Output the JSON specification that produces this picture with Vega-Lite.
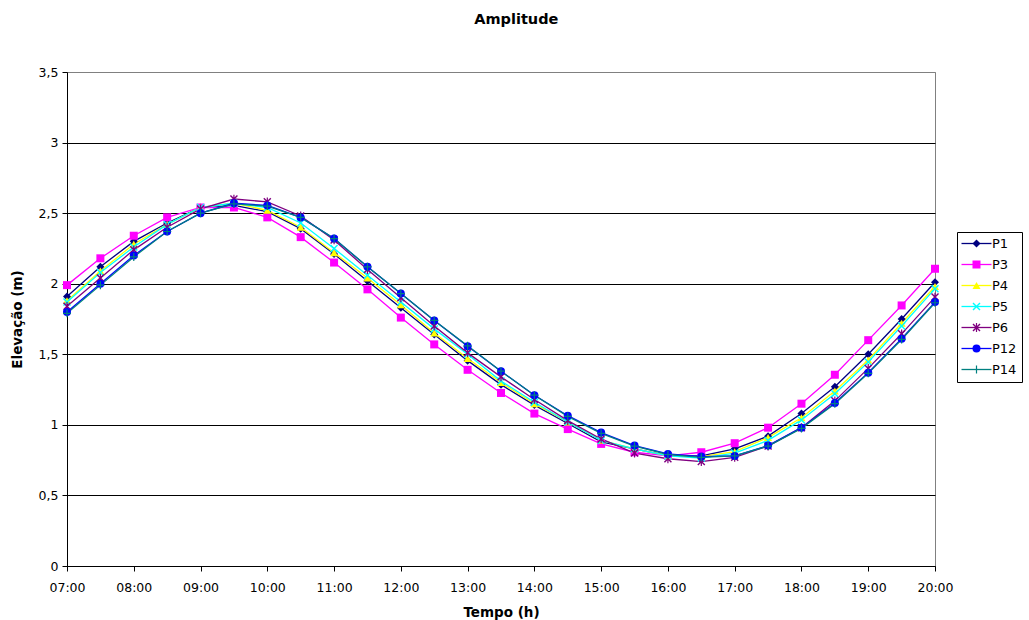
{
  "$schema": "https://vega.github.io/schema/vega-lite/v6.json",
  "width": 868,
  "height": 494,
  "autosize": {"type": "none"},
  "padding": {"left": 67, "top": 72, "right": 94, "bottom": 54},
  "background": "white",
  "title": {"text": "Amplitude", "font": "DejaVu Sans", "fontSize": 14.5, "fontWeight": "bold", "color": "black", "anchor": "middle", "frame": "bounds", "offset": 39},
  "config": {
    "view": {"stroke": "#808080", "strokeWidth": 1},
    "axis": {"labelFont": "DejaVu Sans", "labelFontSize": 12.5, "labelColor": "black", "titleFont": "DejaVu Sans", "titleFontSize": 13.5, "titleFontWeight": "bold", "titleColor": "black", "domainColor": "black", "tickColor": "black", "tickSize": 5}
  },
  "data": {
    "values": [
      {"hora":"07:00","serie":"P1","elev":1.91},{"hora":"07:30","serie":"P1","elev":2.12},{"hora":"08:00","serie":"P1","elev":2.30},{"hora":"08:30","serie":"P1","elev":2.43},{"hora":"09:00","serie":"P1","elev":2.54},{"hora":"09:30","serie":"P1","elev":2.555},{"hora":"10:00","serie":"P1","elev":2.51},{"hora":"10:30","serie":"P1","elev":2.39},{"hora":"11:00","serie":"P1","elev":2.21},{"hora":"11:30","serie":"P1","elev":2.02},{"hora":"12:00","serie":"P1","elev":1.83},{"hora":"12:30","serie":"P1","elev":1.64},{"hora":"13:00","serie":"P1","elev":1.455},{"hora":"13:30","serie":"P1","elev":1.285},{"hora":"14:00","serie":"P1","elev":1.14},{"hora":"14:30","serie":"P1","elev":1.01},{"hora":"15:00","serie":"P1","elev":0.88},{"hora":"15:30","serie":"P1","elev":0.83},{"hora":"16:00","serie":"P1","elev":0.78},{"hora":"16:30","serie":"P1","elev":0.78},{"hora":"17:00","serie":"P1","elev":0.83},{"hora":"17:30","serie":"P1","elev":0.92},{"hora":"18:00","serie":"P1","elev":1.08},{"hora":"18:30","serie":"P1","elev":1.27},{"hora":"19:00","serie":"P1","elev":1.50},{"hora":"19:30","serie":"P1","elev":1.75},{"hora":"20:00","serie":"P1","elev":2.01},
      {"hora":"07:00","serie":"P3","elev":1.99},{"hora":"07:30","serie":"P3","elev":2.18},{"hora":"08:00","serie":"P3","elev":2.34},{"hora":"08:30","serie":"P3","elev":2.47},{"hora":"09:00","serie":"P3","elev":2.54},{"hora":"09:30","serie":"P3","elev":2.54},{"hora":"10:00","serie":"P3","elev":2.47},{"hora":"10:30","serie":"P3","elev":2.33},{"hora":"11:00","serie":"P3","elev":2.15},{"hora":"11:30","serie":"P3","elev":1.96},{"hora":"12:00","serie":"P3","elev":1.76},{"hora":"12:30","serie":"P3","elev":1.57},{"hora":"13:00","serie":"P3","elev":1.39},{"hora":"13:30","serie":"P3","elev":1.226},{"hora":"14:00","serie":"P3","elev":1.08},{"hora":"14:30","serie":"P3","elev":0.97},{"hora":"15:00","serie":"P3","elev":0.865},{"hora":"15:30","serie":"P3","elev":0.806},{"hora":"16:00","serie":"P3","elev":0.78},{"hora":"16:30","serie":"P3","elev":0.806},{"hora":"17:00","serie":"P3","elev":0.87},{"hora":"17:30","serie":"P3","elev":0.98},{"hora":"18:00","serie":"P3","elev":1.15},{"hora":"18:30","serie":"P3","elev":1.355},{"hora":"19:00","serie":"P3","elev":1.60},{"hora":"19:30","serie":"P3","elev":1.846},{"hora":"20:00","serie":"P3","elev":2.106},
      {"hora":"07:00","serie":"P4","elev":1.88},{"hora":"07:30","serie":"P4","elev":2.09},{"hora":"08:00","serie":"P4","elev":2.28},{"hora":"08:30","serie":"P4","elev":2.42},{"hora":"09:00","serie":"P4","elev":2.54},{"hora":"09:30","serie":"P4","elev":2.57},{"hora":"10:00","serie":"P4","elev":2.52},{"hora":"10:30","serie":"P4","elev":2.40},{"hora":"11:00","serie":"P4","elev":2.22},{"hora":"11:30","serie":"P4","elev":2.04},{"hora":"12:00","serie":"P4","elev":1.85},{"hora":"12:30","serie":"P4","elev":1.65},{"hora":"13:00","serie":"P4","elev":1.47},{"hora":"13:30","serie":"P4","elev":1.30},{"hora":"14:00","serie":"P4","elev":1.15},{"hora":"14:30","serie":"P4","elev":1.02},{"hora":"15:00","serie":"P4","elev":0.89},{"hora":"15:30","serie":"P4","elev":0.83},{"hora":"16:00","serie":"P4","elev":0.78},{"hora":"16:30","serie":"P4","elev":0.775},{"hora":"17:00","serie":"P4","elev":0.81},{"hora":"17:30","serie":"P4","elev":0.91},{"hora":"18:00","serie":"P4","elev":1.05},{"hora":"18:30","serie":"P4","elev":1.24},{"hora":"19:00","serie":"P4","elev":1.46},{"hora":"19:30","serie":"P4","elev":1.72},{"hora":"20:00","serie":"P4","elev":1.98},
      {"hora":"07:00","serie":"P5","elev":1.87},{"hora":"07:30","serie":"P5","elev":2.08},{"hora":"08:00","serie":"P5","elev":2.26},{"hora":"08:30","serie":"P5","elev":2.42},{"hora":"09:00","serie":"P5","elev":2.54},{"hora":"09:30","serie":"P5","elev":2.57},{"hora":"10:00","serie":"P5","elev":2.54},{"hora":"10:30","serie":"P5","elev":2.43},{"hora":"11:00","serie":"P5","elev":2.25},{"hora":"11:30","serie":"P5","elev":2.06},{"hora":"12:00","serie":"P5","elev":1.87},{"hora":"12:30","serie":"P5","elev":1.68},{"hora":"13:00","serie":"P5","elev":1.50},{"hora":"13:30","serie":"P5","elev":1.31},{"hora":"14:00","serie":"P5","elev":1.16},{"hora":"14:30","serie":"P5","elev":1.02},{"hora":"15:00","serie":"P5","elev":0.89},{"hora":"15:30","serie":"P5","elev":0.83},{"hora":"16:00","serie":"P5","elev":0.78},{"hora":"16:30","serie":"P5","elev":0.765},{"hora":"17:00","serie":"P5","elev":0.80},{"hora":"17:30","serie":"P5","elev":0.89},{"hora":"18:00","serie":"P5","elev":1.035},{"hora":"18:30","serie":"P5","elev":1.22},{"hora":"19:00","serie":"P5","elev":1.445},{"hora":"19:30","serie":"P5","elev":1.70},{"hora":"20:00","serie":"P5","elev":1.965},
      {"hora":"07:00","serie":"P6","elev":1.84},{"hora":"07:30","serie":"P6","elev":2.04},{"hora":"08:00","serie":"P6","elev":2.24},{"hora":"08:30","serie":"P6","elev":2.40},{"hora":"09:00","serie":"P6","elev":2.53},{"hora":"09:30","serie":"P6","elev":2.60},{"hora":"10:00","serie":"P6","elev":2.58},{"hora":"10:30","serie":"P6","elev":2.48},{"hora":"11:00","serie":"P6","elev":2.31},{"hora":"11:30","serie":"P6","elev":2.10},{"hora":"12:00","serie":"P6","elev":1.90},{"hora":"12:30","serie":"P6","elev":1.70},{"hora":"13:00","serie":"P6","elev":1.51},{"hora":"13:30","serie":"P6","elev":1.34},{"hora":"14:00","serie":"P6","elev":1.18},{"hora":"14:30","serie":"P6","elev":1.03},{"hora":"15:00","serie":"P6","elev":0.90},{"hora":"15:30","serie":"P6","elev":0.80},{"hora":"16:00","serie":"P6","elev":0.76},{"hora":"16:30","serie":"P6","elev":0.74},{"hora":"17:00","serie":"P6","elev":0.77},{"hora":"17:30","serie":"P6","elev":0.85},{"hora":"18:00","serie":"P6","elev":0.98},{"hora":"18:30","serie":"P6","elev":1.17},{"hora":"19:00","serie":"P6","elev":1.40},{"hora":"19:30","serie":"P6","elev":1.645},{"hora":"20:00","serie":"P6","elev":1.905},
      {"hora":"07:00","serie":"P12","elev":1.80},{"hora":"07:30","serie":"P12","elev":2.00},{"hora":"08:00","serie":"P12","elev":2.20},{"hora":"08:30","serie":"P12","elev":2.37},{"hora":"09:00","serie":"P12","elev":2.50},{"hora":"09:30","serie":"P12","elev":2.57},{"hora":"10:00","serie":"P12","elev":2.555},{"hora":"10:30","serie":"P12","elev":2.47},{"hora":"11:00","serie":"P12","elev":2.32},{"hora":"11:30","serie":"P12","elev":2.12},{"hora":"12:00","serie":"P12","elev":1.93},{"hora":"12:30","serie":"P12","elev":1.74},{"hora":"13:00","serie":"P12","elev":1.557},{"hora":"13:30","serie":"P12","elev":1.38},{"hora":"14:00","serie":"P12","elev":1.21},{"hora":"14:30","serie":"P12","elev":1.065},{"hora":"15:00","serie":"P12","elev":0.945},{"hora":"15:30","serie":"P12","elev":0.853},{"hora":"16:00","serie":"P12","elev":0.794},{"hora":"16:30","serie":"P12","elev":0.775},{"hora":"17:00","serie":"P12","elev":0.78},{"hora":"17:30","serie":"P12","elev":0.853},{"hora":"18:00","serie":"P12","elev":0.98},{"hora":"18:30","serie":"P12","elev":1.155},{"hora":"19:00","serie":"P12","elev":1.37},{"hora":"19:30","serie":"P12","elev":1.61},{"hora":"20:00","serie":"P12","elev":1.87},
      {"hora":"07:00","serie":"P14","elev":1.79},{"hora":"07:30","serie":"P14","elev":1.99},{"hora":"08:00","serie":"P14","elev":2.19},{"hora":"08:30","serie":"P14","elev":2.37},{"hora":"09:00","serie":"P14","elev":2.50},{"hora":"09:30","serie":"P14","elev":2.565},{"hora":"10:00","serie":"P14","elev":2.55},{"hora":"10:30","serie":"P14","elev":2.47},{"hora":"11:00","serie":"P14","elev":2.32},{"hora":"11:30","serie":"P14","elev":2.12},{"hora":"12:00","serie":"P14","elev":1.93},{"hora":"12:30","serie":"P14","elev":1.74},{"hora":"13:00","serie":"P14","elev":1.56},{"hora":"13:30","serie":"P14","elev":1.38},{"hora":"14:00","serie":"P14","elev":1.21},{"hora":"14:30","serie":"P14","elev":1.06},{"hora":"15:00","serie":"P14","elev":0.94},{"hora":"15:30","serie":"P14","elev":0.85},{"hora":"16:00","serie":"P14","elev":0.79},{"hora":"16:30","serie":"P14","elev":0.77},{"hora":"17:00","serie":"P14","elev":0.78},{"hora":"17:30","serie":"P14","elev":0.85},{"hora":"18:00","serie":"P14","elev":0.975},{"hora":"18:30","serie":"P14","elev":1.15},{"hora":"19:00","serie":"P14","elev":1.365},{"hora":"19:30","serie":"P14","elev":1.605},{"hora":"20:00","serie":"P14","elev":1.865}
    ]
  },
  "encoding": {
    "x": {"field": "hora", "type": "ordinal", "sort": null, "scale": {"type": "point", "padding": 0},
      "axis": {"title": "Tempo (h)", "values": ["07:00","08:00","09:00","10:00","11:00","12:00","13:00","14:00","15:00","16:00","17:00","18:00","19:00","20:00"], "labelAngle": 0, "grid": false, "labelPadding": 10, "titlePadding": 12, "labelOverlap": false}},
    "y": {"field": "elev", "type": "quantitative", "scale": {"domain": [0, 3.5], "nice": false, "zero": true},
      "axis": {"title": "Elevação (m)", "values": [0, 0.5, 1, 1.5, 2, 2.5, 3, 3.5], "labelExpr": "replace(format(datum.value, '~g'), '.', ',')", "grid": true, "gridColor": {"condition": {"test": "datum.value >= 3.5", "value": "#808080"}, "value": "black"}, "gridOpacity": 1, "labelPadding": 4, "titlePadding": 14}}
  },
  "layer": [
    {"mark": {"type": "line", "strokeWidth": 1.3},
      "encoding": {
        "stroke": {"field": "serie", "type": "nominal",
          "scale": {"domain": ["P1", "P3", "P4", "P5", "P6", "P12", "P14"], "range": ["#000080", "#FF00FF", "#FFFF00", "#00FFFF", "#800080", "#0000FF", "#008080"]},
          "legend": {"title": null, "orient": "none", "legendX": 890, "legendY": 160, "padding": 5, "strokeColor": "black", "fillColor": "white", "labelFont": "DejaVu Sans", "labelFontSize": 13, "labelColor": "black", "labelOpacity": 0, "symbolSize": 64, "symbolType": "M-3.75,0L3.75,0", "symbolStrokeWidth": 1.3, "symbolOffset": 8, "labelOffset": 9, "rowPadding": 7}
        }
      }
    },
    {"mark": {"type": "point", "filled": true, "size": 64, "opacity": 1, "strokeWidth": 0},
      "encoding": {
        "color": {"field": "serie", "type": "nominal", "sort": null,
          "scale": {"range": ["#000080", "#FF00FF", "#FFFF00", "#00FFFF", "#800080", "#0000FF", "#008080"]},
          "legend": {"title": null, "orient": "none", "legendX": 890, "legendY": 160, "padding": 5, "labelFont": "DejaVu Sans", "labelFontSize": 13, "labelColor": "black", "symbolSize": 64, "symbolOffset": 8, "labelOffset": 9, "rowPadding": 7, "symbolStrokeWidth": 0, "symbolOpacity": 1}
        },
        "shape": {"field": "serie", "type": "nominal", "sort": null,
          "scale": {"range": ["diamond", "square", "triangle-up", "M-1,-0.75L-0.75,-1L0,-0.25L0.75,-1L1,-0.75L0.25,0L1,0.75L0.75,1L0,0.25L-0.75,1L-1,0.75L-0.25,0Z", "M-1,-0.75L-0.75,-1L0,-0.25L0.75,-1L1,-0.75L0.25,0L1,0.75L0.75,1L0,0.25L-0.75,1L-1,0.75L-0.25,0ZM-0.15,-1.1L0.15,-1.1L0.15,1.1L-0.15,1.1Z", "circle", "M-0.15,-1L0.15,-1L0.15,-0.15L1,-0.15L1,0.15L0.15,0.15L0.15,1L-0.15,1L-0.15,0.15L-1,0.15L-1,-0.15L-0.15,-0.15Z"]},
          "legend": {"title": null, "orient": "none", "legendX": 890, "legendY": 160, "padding": 5, "labelFont": "DejaVu Sans", "labelFontSize": 13, "labelColor": "black", "symbolSize": 64, "symbolOffset": 8, "labelOffset": 9, "rowPadding": 7, "symbolStrokeWidth": 0, "symbolOpacity": 1}
        }
      }
    }
  ]
}
